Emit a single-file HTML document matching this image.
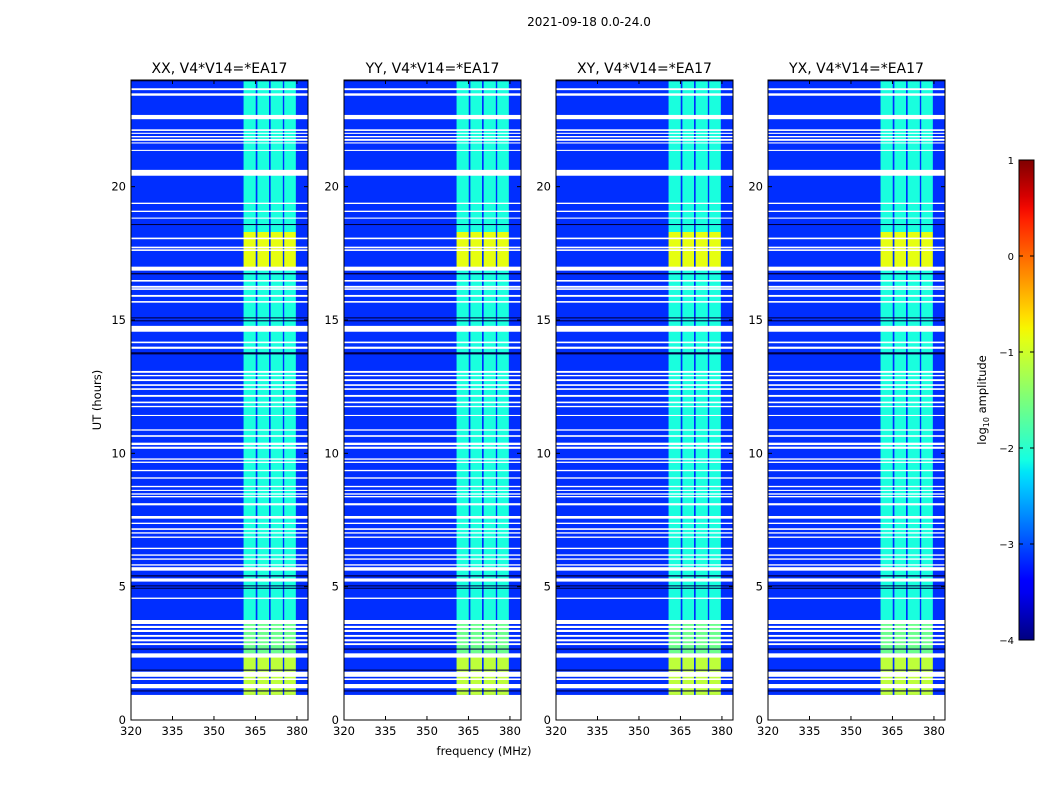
<!DOCTYPE html>
<html><head><meta charset="utf-8"><style>
body{margin:0;background:#fff;width:1050px;height:800px;overflow:hidden;font-family:"DejaVu Sans",sans-serif}
</style></head><body>
<svg id="fig" width="1050" height="800" xmlns="http://www.w3.org/2000/svg" font-family="DejaVu Sans, Liberation Sans, sans-serif">
<rect width="1050" height="800" fill="#fff"/>
<text x="589" y="26" font-size="12" text-anchor="middle">2021-09-18 0.0-24.0</text>
<text x="484" y="755" font-size="11.5" text-anchor="middle">frequency (MHz)</text>
<text transform="translate(101,400) rotate(-90)" font-size="11.5" text-anchor="middle">UT (hours)</text>
<g id="panels"></g>
<g id="cbar"></g>
</svg>
<script>
const panelTitles=["XX, V4*V14=*EA17","YY, V4*V14=*EA17","XY, V4*V14=*EA17","YX, V4*V14=*EA17"];
const panelLefts=[131,344,556,768];
const xTicks=[320,335,350,365,380];
const yTicks=[0,5,10,15,20];
const backgroundLevel=-3.15;
const subBands=[[360.7,365.1],[365.7,369.9],[370.5,374.9],[375.4,379.6]];
const bandSegments=[[0.94,2.5,-1.1],[2.5,3.6,-1.6],[3.6,16.9,-2.1],[16.9,18.3,-0.85],[18.3,24,-2.1]];
const flaggedRows=[[23.62,23.69],[23.41,23.5],[22.53,22.69],[22.09,22.15],[21.98,22.02],[21.85,21.9],[21.72,21.79],[21.62,21.66],[21.34,21.38],[20.41,20.63],[19.35,19.4],[19.05,19.1],[18.8,18.84],[18.03,18.09],[17.69,17.75],[17.59,17.65],[16.85,17.0],[16.44,16.5],[16.21,16.28],[16.13,16.19],[15.87,15.94],[15.65,15.71],[14.56,14.78],[14.13,14.19],[13.92,14.0],[13.02,13.09],[12.89,12.94],[12.71,12.78],[12.53,12.59],[12.38,12.44],[12.12,12.19],[11.88,11.94],[11.73,11.78],[11.4,11.44],[10.85,10.9],[10.62,10.68],[10.31,10.4],[10.17,10.25],[9.76,9.81],[9.64,9.69],[9.33,9.38],[9.05,9.1],[8.73,8.78],[8.59,8.63],[8.45,8.5],[8.35,8.4],[8.05,8.13],[7.55,7.65],[7.35,7.4],[7.13,7.19],[6.99,7.04],[6.83,6.88],[6.41,6.46],[6.16,6.21],[6.01,6.06],[5.79,5.84],[5.6,5.73],[5.19,5.31],[4.54,4.59],[3.6,3.75],[3.45,3.53],[3.3,3.38],[3.12,3.19],[2.95,3.03],[2.81,2.88],[2.34,2.5],[1.62,1.81],[1.5,1.56],[1.19,1.35],[0,0.94]];
const darkRows=[[23.95,24],[18.56,18.6],[16.71,16.76],[15.06,15.1],[14.95,14.99],[13.71,13.79],[5.38,5.43],[4.92,4.96],[5.01,5.05],[2.64,2.68],[1.85,1.89],[1.07,1.11]];
const cbarTicks=[1,0,-1,-2,-3,-4];
const cbarTickLabels=["1","0","\u22121","\u22122","\u22123","\u22124"];

const NS="http://www.w3.org/2000/svg";
function mk(tag,attrs,parent){const e=document.createElementNS(NS,tag);for(const k in attrs)e.setAttribute(k,attrs[k]);parent.appendChild(e);return e;}
function seg(t,pts){for(let i=1;i<pts.length;i++){if(t<=pts[i][0]){const[a,va]=pts[i-1],[b,vb]=pts[i];return va+(vb-va)*(t-a)/(b-a);}}return pts[pts.length-1][1];}
function jet(v){const t=Math.max(0,Math.min(1,(v+4)/5));
 const r=seg(t,[[0,0],[0.35,0],[0.66,1],[0.89,1],[1,0.5]]);
 const g=seg(t,[[0,0],[0.125,0],[0.375,1],[0.64,1],[0.91,0],[1,0]]);
 const b=seg(t,[[0,0.5],[0.11,1],[0.34,1],[0.65,0],[1,0]]);
 return `rgb(${Math.round(r*255)},${Math.round(g*255)},${Math.round(b*255)})`;}

const pTop=80,pBottom=720,W=177;
const yS=h=>pBottom-(h/24)*(pBottom-pTop);
const panelsG=document.getElementById('panels');
panelLefts.forEach((L,pi)=>{
 const xS=f=>L+(f-320)/64*W;
 const g=mk('g',{},panelsG);
 
 
 const clip=mk('clipPath',{id:'c'+pi},g);mk('rect',{x:L,y:pTop,width:W,height:pBottom-pTop},clip);
 const d=mk('g',{'clip-path':`url(#c${pi})`},g);
 const bg=mk('rect',{x:L,y:pTop,width:W,height:pBottom-pTop,fill:jet(backgroundLevel)},d);
 
 
 bandSegments.forEach(s=>subBands.forEach(b=>{
  const r=mk('rect',{x:xS(b[0]),y:yS(s[1]),width:xS(b[1])-xS(b[0]),height:yS(s[0])-yS(s[1]),fill:jet(s[2])},d);
  
  
 }));
 darkRows.forEach(s=>{
  const r=mk('rect',{x:L,y:yS(s[1]),width:W,height:Math.max(1,yS(s[0])-yS(s[1])),fill:'#000040'},d);
  
  
 });
 flaggedRows.forEach(s=>{
  const r=mk('rect',{x:L,y:yS(s[1]),width:W,height:Math.max(1,yS(s[0])-yS(s[1])),fill:'#fff'},d);
  
  
 });
 mk('rect',{x:L,y:pTop,width:W,height:pBottom-pTop,fill:'none',stroke:'#000','stroke-width':1},g);
 xTicks.forEach(v=>{const x=xS(v);
  mk('line',{x1:x,x2:x,y1:pBottom,y2:pBottom-4,stroke:'#000'},g);
  mk('line',{x1:x,x2:x,y1:pTop,y2:pTop+4,stroke:'#000'},g);
  const t=mk('text',{x:x,y:pBottom+15,'font-size':11.5,'text-anchor':'middle'},g);t.textContent=v;
  
  
 });
 yTicks.forEach(v=>{const y=yS(v);
  mk('line',{x1:L,x2:L+4,y1:y,y2:y,stroke:'#000'},g);
  mk('line',{x1:L+W,x2:L+W-4,y1:y,y2:y,stroke:'#000'},g);
  const t=mk('text',{x:L-5,y:y+4,'font-size':11.5,'text-anchor':'end'},g);t.textContent=v;
  
  
 });
 const tt=mk('text',{x:L+W/2,y:73,'font-size':14,'text-anchor':'middle'},g);tt.textContent=panelTitles[pi];
 
 
});

const cb=document.getElementById('cbar');


const cT=160,cB=640,cL=1019,cW=15;
const cy=v=>cB-(v+4)/5*(cB-cT);
const defs=mk('defs',{},cb);const lg=mk('linearGradient',{id:'jg',x1:0,y1:1,x2:0,y2:0},defs);
for(let i=0;i<=40;i++){const v=-4+5*i/40;mk('stop',{offset:i/40,'stop-color':jet(v)},lg);}
mk('rect',{x:cL,y:cT,width:cW,height:cB-cT,fill:'url(#jg)',stroke:'#000'},cb);
cbarTicks.forEach((v,i)=>{const y=cy(v);
 mk('line',{x1:cL,x2:cL+4,y1:y,y2:y,stroke:'#000'},cb);
 mk('line',{x1:cL+cW,x2:cL+cW-4,y1:y,y2:y,stroke:'#000'},cb);
 const t=mk('text',{x:cL-5,y:y+4,'font-size':10,'text-anchor':'end'},cb);t.textContent=cbarTickLabels[i];
 
 
});
const cbLabel=mk('text',{transform:'translate(986,400) rotate(-90)','font-size':11.5,'text-anchor':'middle'},cb);
cbLabel.innerHTML='log<tspan font-size="8" dy="3">10</tspan><tspan dy="-3"> amplitude</tspan>';


</script>
</body></html>
